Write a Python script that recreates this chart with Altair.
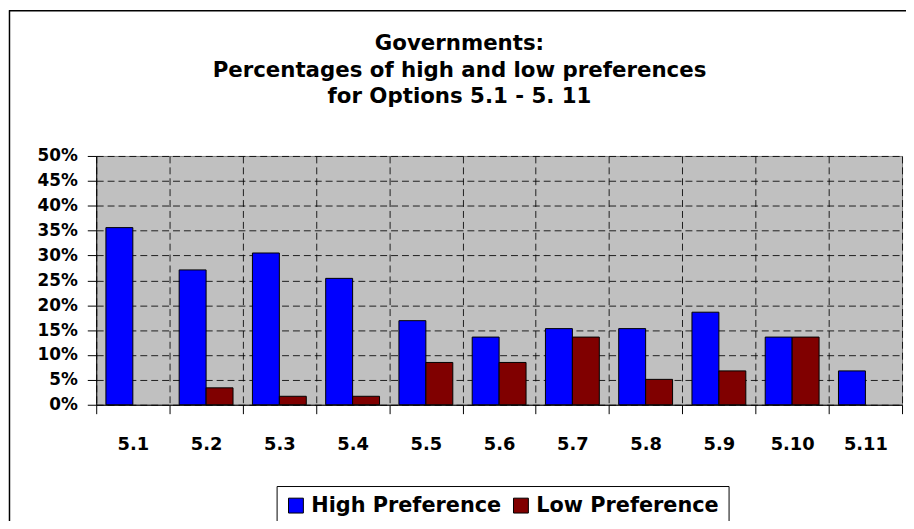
import altair as alt
import pandas as pd

# ---- data ----
CATEGORIES = ["5.1", "5.2", "5.3", "5.4", "5.5", "5.6", "5.7", "5.8", "5.9", "5.10", "5.11"]
HIGH = [0.356, 0.271, 0.305, 0.254, 0.169, 0.136, 0.153, 0.153, 0.186, 0.136, 0.068]
LOW = [0.0, 0.034, 0.017, 0.017, 0.085, 0.085, 0.136, 0.051, 0.068, 0.136, 0.0]
SERIES = ["High Preference", "Low Preference"]
COLORS = ["#0000FF", "#800000"]
Y_TICKS = [0, 0.05, 0.10, 0.15, 0.20, 0.25, 0.30, 0.35, 0.40, 0.45, 0.50]
TITLE_LINES = ["Governments:", "Percentages of high and low preferences", "for Options 5.1 - 5. 11"]

rows = []
for c, h, l in zip(CATEGORIES, HIGH, LOW):
    rows.append({"option": c, "series": SERIES[0], "value": h})
    rows.append({"option": c, "series": SERIES[1], "value": l})
df = pd.DataFrame(rows)

FONT = "DejaVu Sans"
W, H = 813, 251

bars = alt.Chart(df).mark_bar(stroke="#000000", strokeWidth=1).encode(
    x=alt.X(
        "option:N",
        sort=CATEGORIES,
        scale=alt.Scale(paddingInner=0, paddingOuter=0),
        axis=alt.Axis(
            title=None, labelAngle=0, tickBand="extent", grid=True,
            gridDash=[7, 4], gridColor="#000000", gridOpacity=0.85,
            tickSize=9, tickColor="#000000", domainColor="#000000",
            labelFont=FONT, labelFontWeight="bold", labelFontSize=18,
            labelColor="#000000", labelPadding=22,
        ),
    ),
    xOffset=alt.XOffset("series:N", sort=SERIES,
                        scale=alt.Scale(paddingInner=0, paddingOuter=0.36)),
    y=alt.Y(
        "value:Q",
        scale=alt.Scale(domain=[0, 0.5], nice=False),
        axis=alt.Axis(
            title=None, values=Y_TICKS, format=".0%", grid=True,
            gridDash=[7, 4], gridColor="#000000", gridOpacity=0.85,
            tickSize=9, tickColor="#000000", domainColor="#000000",
            labelFont=FONT, labelFontWeight="bold", labelFontSize=17,
            labelColor="#000000", labelPadding=10,
        ),
    ),
    color=alt.Color(
        "series:N",
        sort=SERIES,
        scale=alt.Scale(domain=SERIES, range=COLORS),
        legend=alt.Legend(
            title=None, orient="none", legendX=182, legendY=333,
            direction="horizontal", symbolType="square", symbolSize=225,
            symbolStrokeColor="#000000", symbolStrokeWidth=1,
            labelFont=FONT, labelFontWeight="bold", labelFontSize=21,
            labelColor="#000000", labelLimit=400, labelOffset=5,
            strokeColor="#000000", fillColor="#FFFFFF", padding=9,
            columnPadding=9,
        ),
    ),
    opacity=alt.condition("datum.value > 0", alt.value(1), alt.value(0)),
)

one = pd.DataFrame({"k": [0]})

title = alt.Chart(one).mark_text(
    font=FONT, fontWeight="bold", fontSize=21.5, color="#000000",
    align="center", baseline="alphabetic", lineHeight=27,
).encode(
    x=alt.value(366.5), y=alt.value(-107), text=alt.value(TITLE_LINES)
)

frame_top = alt.Chart(one).mark_rule(color="#000000", strokeWidth=1.5).encode(
    x=alt.value(-88), x2=alt.value(830), y=alt.value(-146.5)
)
frame_left = alt.Chart(one).mark_rule(color="#000000", strokeWidth=1.5).encode(
    x=alt.value(-87.5), y=alt.value(-147), y2=alt.value(400)
)

chart = alt.layer(bars, title, frame_top, frame_left).properties(
    width=W, height=H,
    autosize=alt.AutoSizeParams(type="none"),
    padding={"left": 89, "top": 147, "right": 4, "bottom": 115},
    background="#FFFFFF",
).configure_view(fill="#C0C0C0", stroke="#808080", strokeWidth=1)

chart.save("out.html", embed_options={"renderer": "svg", "actions": False})
